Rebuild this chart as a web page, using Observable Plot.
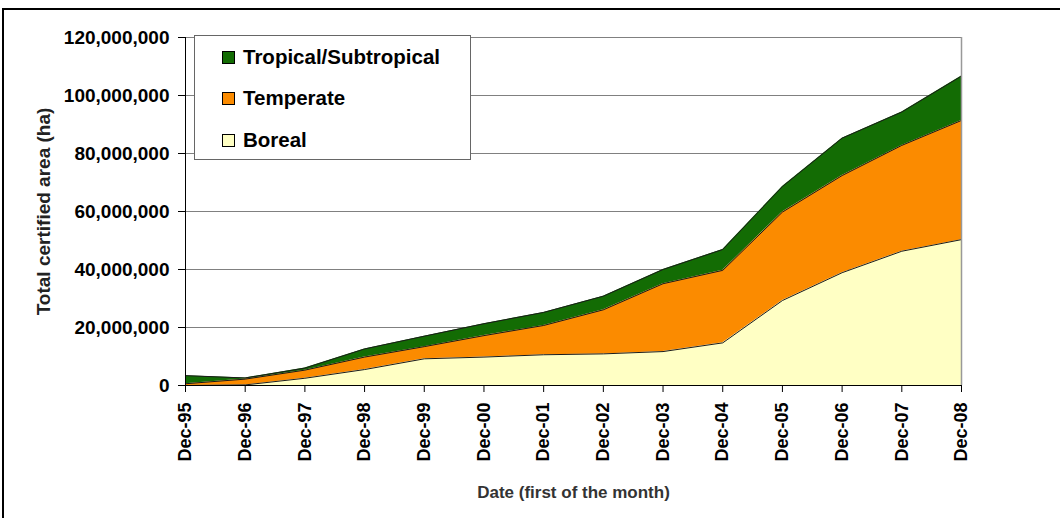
<!DOCTYPE html>
<html><head><meta charset="utf-8">
<script src="https://cdn.jsdelivr.net/npm/d3@7"></script>
<script src="https://cdn.jsdelivr.net/npm/@observablehq/plot@0.6"></script>
<style>
body{margin:0;background:#fff;}
#wrap{position:relative;width:1060px;height:518px;font-family:"Liberation Sans",Arial,sans-serif;overflow:hidden}
#frame{position:absolute;left:2px;top:8px;right:-4px;bottom:-4px;border-top:2px solid #000;border-left:2px solid #000;pointer-events:none}
#legend{position:absolute;left:194px;top:35px;width:277px;height:125px;border:1px solid #666;background:#fff;box-sizing:border-box}
.row{position:absolute;left:27px;height:22px;display:flex;align-items:center;font-weight:bold;font-size:20.5px;color:#000}
.sw{width:11px;height:11px;border:1px solid #000;margin-right:8px}
</style></head>
<body><div id="wrap"><div id="chart"></div><div id="legend"></div><div id="frame"></div></div>
<script>
const dates = ["Dec-95","Dec-96","Dec-97","Dec-98","Dec-99","Dec-00","Dec-01","Dec-02","Dec-03","Dec-04","Dec-05","Dec-06","Dec-07","Dec-08"];
const zones = ["Tropical/Subtropical","Temperate","Boreal"];
const zoneColors = ["#136c04","#fb8b00","#ffffc4"];
const boreal = [0,200000,2500000,5500000,9200000,9800000,10600000,10900000,11700000,14700000,29300000,38900000,46300000,50300000];
const temperate = [600000,2000000,2800000,4300000,4200000,7400000,10100000,15200000,23400000,25000000,30500000,33500000,36500000,41100000];
const tropical = [2800000,400000,700000,2800000,3600000,4100000,4500000,4700000,4900000,7200000,8800000,12900000,11500000,15300000];
const yTicks = [0,20000000,40000000,60000000,80000000,100000000,120000000];
const yLabel = "Total certified area (ha)";
const xLabel = "Date (first of the month)";

const series = {"Boreal": boreal, "Temperate": temperate, "Tropical/Subtropical": tropical};
const stackOrder = ["Boreal","Temperate","Tropical/Subtropical"];
const rows = [];
dates.forEach((d, i) => stackOrder.forEach(z => rows.push({i, date: d, zone: z, value: series[z][i]})));
const xIdx = dates.map((d, i) => i);

const chart = Plot.plot({
  width: 1060, height: 518,
  marginLeft: 185, marginRight: 99, marginTop: 37, marginBottom: 133,
  style: {fontFamily: '"Liberation Sans", Arial, sans-serif', background: "transparent", overflow: "visible", color: "#000"},
  x: {domain: [0, dates.length - 1]},
  y: {domain: [0, 120000000]},
  color: {domain: zones, range: zoneColors},
  marks: [
    Plot.gridY(yTicks, {stroke: "#808080", strokeOpacity: 1}),
    Plot.areaY(rows, {x: "i", y: "value", z: "zone", fill: "zone", order: stackOrder}),
    Plot.lineY(rows, Plot.stackY2({x: "i", y: "value", z: "zone", order: stackOrder, stroke: "#1a1a1a", strokeWidth: 1})),
    Plot.ruleX([dates.length - 1], {stroke: "#999", strokeWidth: 1.5}),
    Plot.ruleY([0], {stroke: "#000"}),
    Plot.ruleX([0], {stroke: "#000"}),
    Plot.axisY(yTicks, {tickSize: 7, tickPadding: 9, tickFormat: d3.format(","), fontSize: 19, fontWeight: "bold", label: null, stroke: "#000"}),
    Plot.axisX(xIdx, {tickSize: 7, tickPadding: 10, tickRotate: -90, tickFormat: i => dates[i], fontSize: 18, fontWeight: "bold", label: null, stroke: "#000"}),
    Plot.text([xLabel], {frameAnchor: "bottom", dy: 112, fontSize: 17, fontWeight: "bold", fill: "#333"}),
    Plot.text([yLabel], {frameAnchor: "left", dx: -142, rotate: -90, textAnchor: "middle", fontSize: 19, fontWeight: "bold", fill: "#222"})
  ]
});
document.getElementById("chart").appendChild(chart);

const legend = document.getElementById("legend");
const rowTops = [10, 51, 93];
zones.forEach((z, k) => {
  const r = document.createElement("div");
  r.className = "row";
  r.style.top = rowTops[k] + "px";
  const s = document.createElement("div");
  s.className = "sw";
  s.style.background = zoneColors[k];
  const t = document.createElement("span");
  t.textContent = z;
  r.appendChild(s); r.appendChild(t);
  legend.appendChild(r);
});
</script></body></html>
